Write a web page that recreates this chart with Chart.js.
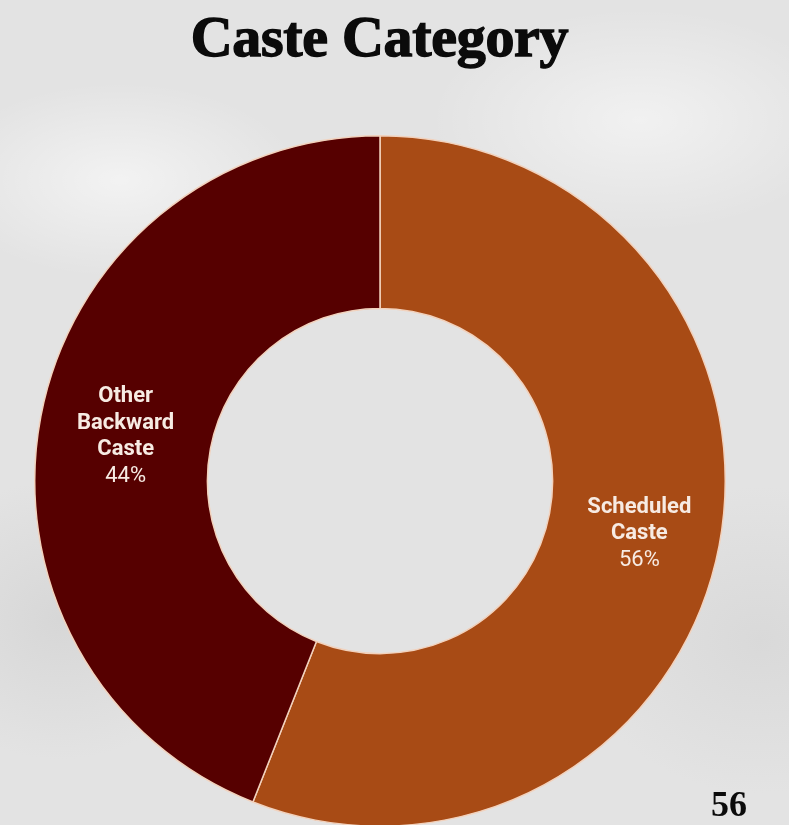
<!DOCTYPE html>
<html>
<head>
<meta charset="utf-8">
<title>Caste Category</title>
<script src="https://cdn.jsdelivr.net/npm/chart.js@4"></script>
<style>
  html, body {
    margin: 0;
    padding: 0;
  }
  body {
    width: 789px;
    height: 825px;
    overflow: hidden;
    position: relative;
    background:
      radial-gradient(ellipse 260px 140px at 120px 180px, rgba(255,255,255,0.55), rgba(255,255,255,0) 70%),
      radial-gradient(ellipse 300px 160px at 640px 120px, rgba(255,255,255,0.5), rgba(255,255,255,0) 70%),
      radial-gradient(ellipse 220px 200px at 60px 620px, rgba(200,200,200,0.45), rgba(200,200,200,0) 70%),
      radial-gradient(ellipse 260px 220px at 760px 640px, rgba(205,205,205,0.45), rgba(205,205,205,0) 70%),
      #e3e3e3;
  }
  #title {
    position: absolute;
    left: 0;
    top: 3px;
    width: 759px;
    text-align: center;
    font-family: "Liberation Serif", serif;
    font-weight: bold;
    font-size: 58px;
    color: #0b0b0b;
    -webkit-text-stroke: 1.4px #0b0b0b;
    letter-spacing: -0.3px;
  }
  #page {
    position: absolute;
    left: 711px;
    top: 783px;
    font-family: "Liberation Serif", serif;
    font-weight: bold;
    font-size: 36px;
    color: #0b0b0b;
  }
  #wrap {
    position: absolute;
    left: 34px;
    top: 135px;
    width: 692px;
    height: 692px;
  }
</style>
</head>
<body>
<div id="title">Caste Category</div>
<div id="wrap"><canvas id="casteChart"></canvas></div>
<div id="page">56</div>

<script>
  const categories = ["Scheduled Caste", "Other Backward Caste"];
  const labelLines = [["Scheduled", "Caste"], ["Other", "Backward", "Caste"]];
  const shares = [56, 44];
  const sliceColors = ["#a84b15", "#560000"];

  // writes the name and percentage in the middle of each ring segment
  const sliceLabels = {
    id: "sliceLabels",
    afterDatasetsDraw(chart) {
      const ctx = chart.ctx;
      const meta = chart.getDatasetMeta(0);
      ctx.save();
      ctx.textAlign = "center";
      ctx.textBaseline = "middle";
      ctx.fillStyle = "#f7ebe3";
      meta.data.forEach((arc, i) => {
        const pos = arc.tooltipPosition();
        const lines = labelLines[i].concat([shares[i] + "%"]);
        const lh = 26.5;
        const top = pos.y - ((lines.length - 1) * lh) / 2 + 4;
        lines.forEach((line, j) => {
          const last = j === lines.length - 1;
          ctx.font = (last ? "" : "bold ") + "22px Roboto";
          ctx.fillText(line, pos.x + (i === 0 ? 5 : 0), top + j * lh);
        });
      });
      ctx.restore();
    },
  };

  const ctx = document.getElementById("casteChart").getContext("2d");

  new Chart(ctx, {
    type: "doughnut",
    data: {
      labels: categories,
      datasets: [
        {
          data: shares,
          backgroundColor: sliceColors,
          borderColor: "#f2d2bd",
          borderWidth: 1.5,
          hoverOffset: 0,
        },
      ],
    },
    options: {
      responsive: true,
      maintainAspectRatio: false,
      animation: false,
      cutout: "50%",
      layout: { padding: 0 },
      plugins: {
        legend: { display: false },
        tooltip: { enabled: false },
        title: { display: false },
      },
    },
    plugins: [sliceLabels],
  });
</script>
</body>
</html>
